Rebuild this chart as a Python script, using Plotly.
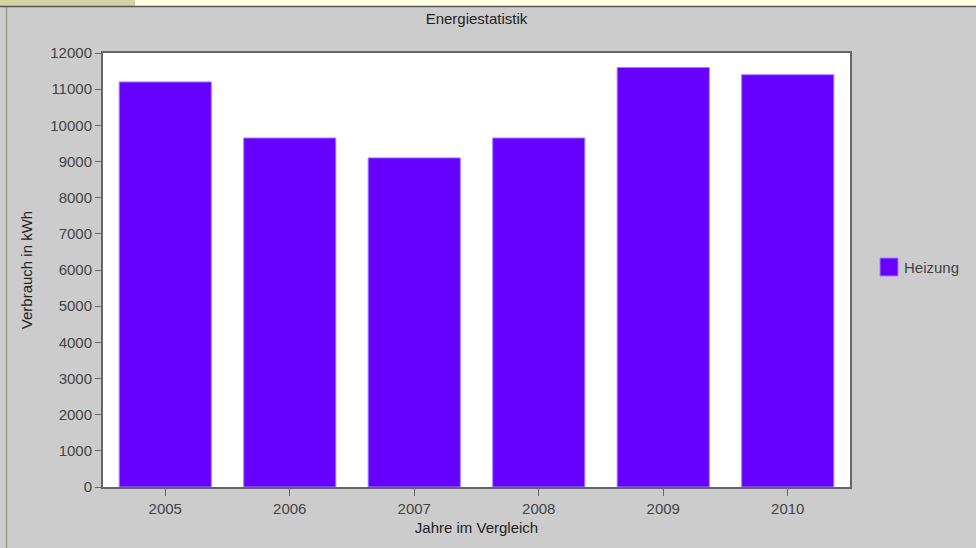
import plotly.graph_objects as go

# Energy consumption per year (heating)
years = ["2005", "2006", "2007", "2008", "2009", "2010"]
heizung_kwh = [11200, 9650, 9100, 9650, 11600, 11400]
series_name = "Heizung"
y_ticks = list(range(0, 12001, 1000))

W, H = 976, 548
PL, PR, PT, PB = 103, 850, 53, 487  # plot area in pixels

FONT = "Liberation Sans, Arial, sans-serif"
BAR = "#6600ff"
BAR_EDGE = "#a080ff"


def px_x(px):
    return (px - PL) / (PR - PL)


def px_y(py):
    return (PB - py) / (PB - PT)


fig = go.Figure()
fig.add_trace(go.Bar(
    x=years, y=heizung_kwh, name=series_name, width=0.74,
    marker=dict(color=BAR, line=dict(color=BAR_EDGE, width=1)),
    showlegend=False,
))

shapes = [
    # header strip
    dict(type="rect", xref="paper", yref="paper", x0=px_x(0), x1=px_x(135),
         y0=px_y(6), y1=px_y(0), fillcolor="#d5d2a3", line=dict(width=0), layer="below"),
    dict(type="rect", xref="paper", yref="paper", x0=px_x(135), x1=px_x(W),
         y0=px_y(6), y1=px_y(0), fillcolor="#ffffe0", line=dict(width=0), layer="below"),
    dict(type="line", xref="paper", yref="paper", x0=px_x(0), x1=px_x(W),
         y0=px_y(6.5), y1=px_y(6.5), line=dict(color="#555555", width=1.5)),
    # left panel edge
    dict(type="line", xref="paper", yref="paper", x0=px_x(6.5), x1=px_x(6.5),
         y0=px_y(7), y1=px_y(H), line=dict(color="#9a9a82", width=1.5)),
    # legend swatch
    dict(type="rect", xref="paper", yref="paper", x0=px_x(880), x1=px_x(898),
         y0=px_y(276), y1=px_y(258), fillcolor=BAR, line=dict(color=BAR_EDGE, width=1)),
]

annotations = [
    dict(text=series_name, xref="paper", yref="paper", x=px_x(902), y=px_y(267.5),
         xanchor="left", yanchor="middle", showarrow=False,
         font=dict(family=FONT, size=15, color="#444444")),
]

fig.update_layout(
    width=W, height=H,
    margin=dict(l=PL, r=W - PR, t=PT, b=H - PB, pad=0),
    paper_bgcolor="#cccccc", plot_bgcolor="#ffffff",
    font=dict(family=FONT, size=15, color="#444444"),
    title=dict(text="Energiestatistik", x=0.5, xref="paper", xanchor="center",
               y=1 - 19 / H, yref="container", yanchor="middle",
               font=dict(family=FONT, size=15, color="#222222")),
    bargap=0.26,
    shapes=shapes, annotations=annotations,
    showlegend=False,
)

fig.update_xaxes(
    type="category", showgrid=False, zeroline=False,
    showline=True, mirror=True, linecolor="#666666", linewidth=2,
    ticks="outside", ticklen=7, tickcolor="#666666", tickwidth=1,
    tickfont=dict(family=FONT, size=15, color="#444444"),
    title=dict(text="Jahre im Vergleich", standoff=6,
               font=dict(family=FONT, size=15, color="#222222")),
)
fig.update_yaxes(
    range=[0, 12000], tickvals=y_ticks, tickformat="d",
    showgrid=False, zeroline=False,
    showline=True, mirror=True, linecolor="#666666", linewidth=2,
    ticks="outside", ticklen=6, tickcolor="#666666", tickwidth=1,
    tickfont=dict(family=FONT, size=15, color="#444444"),
    title=dict(text="Verbrauch in kWh", standoff=14,
               font=dict(family=FONT, size=15, color="#222222")),
)

fig.write_html("out.html")
